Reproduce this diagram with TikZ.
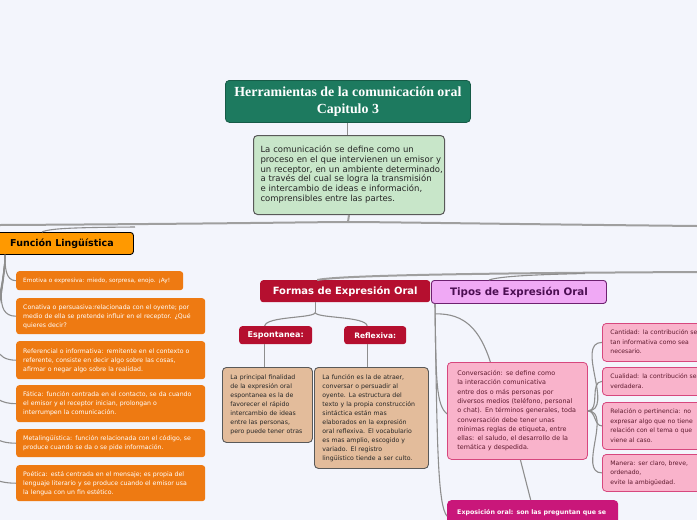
\documentclass[tikz,border=0pt]{standalone}
\usepackage{fontspec}
\setmainfont{DejaVu Sans}
\newfontfamily\titlefont{Liberation Serif}
\newcommand\lns[1]{\begin{tabular}{@{}l@{}}#1\end{tabular}}
\definecolor{bg}{HTML}{F3F5FC}
\definecolor{titlegreen}{HTML}{1D7A5F}
\definecolor{cgreen}{HTML}{C8E6C9}
\definecolor{flor}{HTML}{FF9900}
\definecolor{ochild}{HTML}{EE7A12}
\definecolor{crimson}{HTML}{B50F2F}
\definecolor{tan}{HTML}{E3BC9B}
\definecolor{lilac}{HTML}{F0A9F5}
\definecolor{purp}{HTML}{6E2170}
\definecolor{purptext}{HTML}{4B0E52}
\definecolor{pink}{HTML}{F9B3CB}
\definecolor{pinkb}{HTML}{D7477E}
\definecolor{pinktext}{HTML}{5E1A2E}
\definecolor{expo}{HTML}{C9177A}
\definecolor{conn}{HTML}{8E8E8E}
\begin{document}
\begin{tikzpicture}[x=1pt,y=-1pt,
  every node/.style={anchor=north west, inner ysep=2pt},
  tbox/.style 2 args={text width=#1-2*\pgfkeysvalueof{/pgf/inner xsep}, minimum height=#2, align=left},
  orangebox/.style={fill=ochild, rounded corners=3pt, text=white, inner xsep=7pt, font=\fontsize{6.2}{9}\selectfont},
  brownbox/.style={fill=tan, draw=black!65, line width=0.9pt, rounded corners=4pt, text=black!85, inner xsep=8pt, font=\fontsize{6.2}{9}\selectfont},
  pinkbox/.style={fill=pink, draw=pinkb, line width=0.8pt, rounded corners=4pt, text=pinktext, inner xsep=8pt, font=\fontsize{6.1}{9.5}\selectfont},
  redhead/.style={fill=crimson, rounded corners=3pt, text=white, font=\bfseries\fontsize{10}{12}\selectfont},
  conline/.style={draw=conn, line width=1.1pt},
  trunk/.style={draw=conn!85, line width=2pt},
]
\useasboundingbox (0,0) rectangle (697,520);
\fill[bg] (0,0) rectangle (697,520);

% ---- title and central
\node[fill=titlegreen, draw=titlegreen!75!black, line width=0.8pt, rounded corners=4pt, minimum width=245, minimum height=42, align=center, text=white, inner ysep=1pt,
  font=\titlefont\bfseries\fontsize{13.9}{17}\selectfont] (title) at (225,80)
  {Herramientas de la comunicación oral\\Capitulo 3};
\node[fill=cgreen, draw=black!65, line width=1pt, rounded corners=4pt, text=black!85, inner xsep=7pt,
  tbox={191pt}{79pt}, font=\fontsize{8.5}{9.6}\selectfont] (central) at (253,135)
  {\lns{La comunicación se define como un\\
  proceso en el que intervienen un emisor y\\
  un receptor, en un ambiente determinado,\\
  a través del cual se logra la transmisión\\
  e intercambio de ideas e información,\\
  comprensibles entre las partes.}};

% ---- Función Lingüística
\node[fill=flor, draw=black, line width=0.9pt, rounded corners=3pt, minimum width=143, minimum height=22,
  font=\bfseries\fontsize{9.5}{11}\selectfont] (fl) at (-10,232) {Función Lingüística};
\node[orangebox, tbox={167pt}{19pt}, font=\fontsize{5.8}{9}\selectfont] (emo) at (16,271)
  {\lns{Emotiva o expresiva: miedo, sorpresa, enojo. ¡Ay!}};
\node[orangebox, tbox={189pt}{36pt}] (con) at (16,298)
  {\lns{Conativa o persuasiva:relacionada con el oyente; por\\medio de ella se pretende influir en el receptor. ¿Qué\\quieres decir?}};
\node[orangebox, tbox={189pt}{38pt}] (refe) at (16,341)
  {\lns{Referencial o informativa: remitente en el contexto o\\referente, consiste en decir algo sobre las cosas,\\afirmar o negar algo sobre la realidad.}};
\node[orangebox, tbox={189pt}{37pt}] (fat) at (16,385)
  {\lns{Fática: función centrada en el contacto, se da cuando\\el emisor y el receptor inician, prolongan o\\interrumpen la comunicación.}};
\node[orangebox, tbox={189pt}{28pt}] (meta) at (16,429)
  {\lns{Metalingüística: función relacionada con el código, se\\produce cuando se da o se pide información.}};
\node[orangebox, tbox={189pt}{36pt}] (poe) at (16,465)
  {\lns{Poética: está centrada en el mensaje; es propia del\\lenguaje literario y se produce cuando el emisor usa\\la lengua con un fin estético.}};

% ---- Formas de Expresión Oral
\node[redhead, minimum width=170, minimum height=22] (formas) at (260,280) {Formas de Expresión Oral};
\node[redhead, minimum width=73, minimum height=18, font=\bfseries\fontsize{8}{10}\selectfont] (esp) at (239,326) {Espontanea:};
\node[redhead, minimum width=62, minimum height=18, font=\bfseries\fontsize{7.5}{10}\selectfont] (refl) at (344,326) {Reflexiva:};
\node[brownbox, tbox={90pt}{75pt}] (b1) at (222,367)
  {\lns{La principal finalidad\\de la expresión oral\\espontanea es la de\\favorecer el rápido\\intercambio de ideas\\entre las personas,\\pero puede tener otras}};
\node[brownbox, tbox={114pt}{101pt}] (b2) at (314,367)
  {\lns{La función es la de atraer,\\conversar o persuadir al\\oyente. La estructura del\\texto y la propia construcción\\sintáctica están mas\\elaborados en la expresión\\oral reflexiva. El vocabulario\\es mas amplio, escogido y\\variado. El registro\\lingüístico tiende a ser culto.}};

% ---- Tipos de Expresión Oral
\node[fill=lilac, draw=purp, line width=0.9pt, rounded corners=3pt, minimum width=175, minimum height=23, text=purptext,
  font=\bfseries\fontsize{10.3}{12}\selectfont] (tipos) at (431,280) {Tipos de Expresión Oral};
\node[pinkbox, inner xsep=10pt, tbox={140pt}{97pt}, font=\fontsize{6.4}{9.3}\selectfont] (conv) at (447,362)
  {\lns{Conversación: se define como\\la interacción comunicativa\\entre dos o más personas por\\diversos medios (teléfono, personal\\o chat). En términos generales, toda\\conversación debe tener unas\\mínimas reglas de etiqueta, entre\\ellas: el saludo, el desarrollo de la\\temática y despedida.}};
\node[pinkbox, tbox={130pt}{38pt}] (cant) at (602,323)
  {\lns{Cantidad: la contribución sea\\tan informativa como sea\\necesario.}};
\node[pinkbox, tbox={130pt}{28pt}] (cual) at (602,367)
  {\lns{Cualidad: la contribución sea\\verdadera.}};
\node[pinkbox, tbox={130pt}{47pt}] (rel) at (602,402)
  {\lns{Relación o pertinencia: no\\expresar algo que no tiene\\relación con el tema o que\\viene al caso.}};
\node[pinkbox, tbox={130pt}{37pt}] (man) at (602,454)
  {\lns{Manera: ser claro, breve,\\ordenado,\\evite la ambigüedad.}};
\node[fill=expo, rounded corners=4pt, text=white, inner xsep=10pt, tbox={171pt}{24pt},
  font=\bfseries\fontsize{6.3}{9}\selectfont] (expon) at (447,500)
  {\lns{Exposición oral: son las preguntan que se}};

% ---- connectors
\coordinate (tk) at (348,222);
\coordinate (Lend) at (0,225);
\coordinate (Rend) at (697,226);
\coordinate (fb) at (135,227);
\coordinate (R2) at (697,272);
\coordinate (tb) at (585,273.5);
\draw[conline] (title.south) -- (title.south |- central.north);
\draw[trunk] (central.south) -- (tk);
\draw[trunk] (tk) .. controls (320,222) and (200,224) .. (Lend);
\draw[trunk] (tk) .. controls (380,222) and (500,224) .. (Rend);
\draw[conline] (fb) .. controls (80,227.5) and (50,228) .. ([xshift=52pt]fl.north west);
\draw[trunk] (R2) .. controls (500,273) and (340,275) .. ([xshift=-28pt]formas.north);
\draw[conline] (tb) .. controls (540,274.5) and (500,276) .. ([xshift=-30pt]tipos.north);

% Función children
\coordinate (fs) at ([xshift=15pt]fl.south west);
\foreach \c in {emo,con,refe,fat,meta,poe}
  \draw[conline] (fs) to[out=-90,in=180] (\c.west);

% Formas tree
\coordinate (ff) at ([xshift=-30pt,yshift=-10pt]formas.south);
\draw[conline] ([xshift=-30pt]formas.south) -- (ff);
\draw[conline] (ff) .. controls ([yshift=-6pt]ff) and (266,316) .. ([xshift=-11pt]esp.north);
\draw[conline] (ff) .. controls ([yshift=-6pt]ff) and (366,316) .. ([xshift=-8pt]refl.north);
\draw[conline] ([xshift=-11pt]esp.south) -- ([xshift=-11pt]esp.south |- b1.north);
\draw[conline] ([xshift=-8pt]refl.south) -- ([xshift=-8pt]refl.south |- b2.north);

% Tipos tree
\coordinate (ts) at ([xshift=4pt]tipos.south west);
\draw[conline] (ts) .. controls (436,380) and (436,405) .. ([yshift=-3pt]conv.west);
\draw[conline] (ts) .. controls (437,450) and (438,505) .. ([yshift=-4pt]expon.west);
\draw[conline] ([yshift=-10pt]ts) .. controls (465,313) and (480,330) .. ([xshift=-27pt]conv.north);
\draw[conline] ([xshift=3pt]conv.south) -- ([xshift=-2pt]expon.north);
\foreach \c in {cant,cual,rel,man}
  \draw[conline] (conv.east) to[out=0,in=180] (\c.west);
\end{tikzpicture}
\end{document}
